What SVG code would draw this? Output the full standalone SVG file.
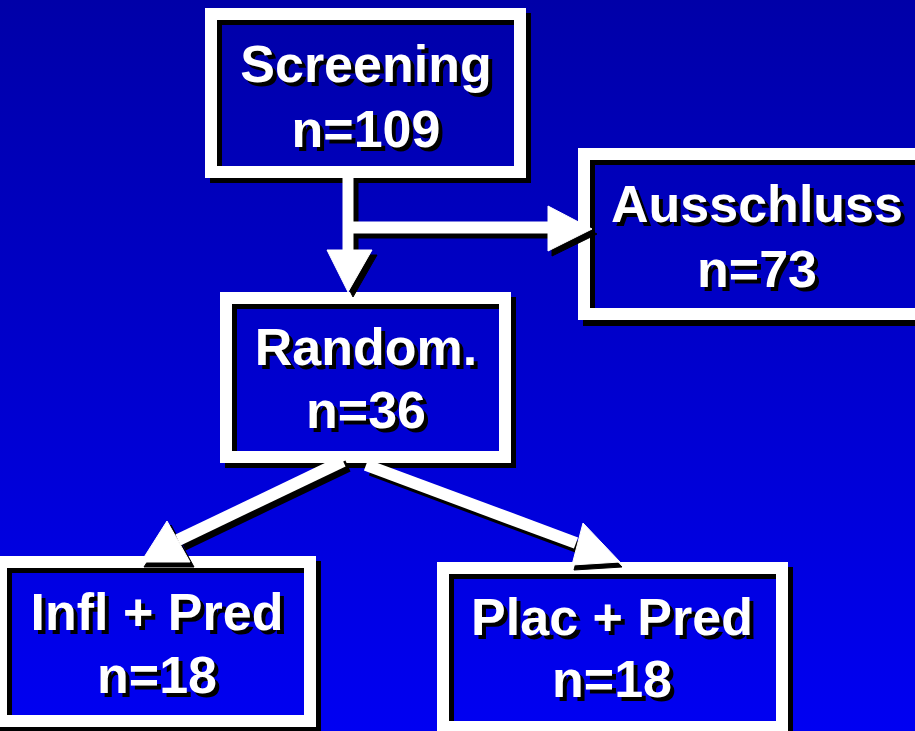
<svg xmlns="http://www.w3.org/2000/svg" width="915" height="731" viewBox="0 0 915 731">
<defs>
<linearGradient id="bg" x1="0" y1="0" x2="0" y2="1">
<stop offset="0" stop-color="#0000A8"/>
<stop offset="1" stop-color="#0000F2"/>
</linearGradient>
</defs>
<style>
.sh{fill:none;stroke:#000;stroke-width:12}
.fr{fill:none;stroke:#fff;stroke-width:12}
.t{font-family:"Liberation Sans",Arial,sans-serif;font-weight:bold;font-size:52px;text-anchor:middle;fill:#fff}
.ts{font-family:"Liberation Sans",Arial,sans-serif;font-weight:bold;font-size:52px;text-anchor:middle;fill:#000}
.cs{fill:#000;stroke:#000}
.cw{fill:#fff;stroke:#fff}
.ls{stroke:#000;stroke-width:12;fill:none}
.lw{stroke:#fff;stroke-width:12;fill:none}
</style>
<rect x="0" y="0" width="915" height="731" fill="url(#bg)"/>

<g id="node-screening">
<rect class="sh" x="216" y="19" width="309" height="158"/>
<rect class="fr" x="211" y="14" width="309" height="158"/>
<text class="ts" x="370" y="86">Screening</text>
<text class="t" x="366" y="82">Screening</text>
<text class="ts" x="370" y="151">n=109</text>
<text class="t" x="366" y="147">n=109</text>
</g>

<g id="node-ausschluss">
<rect class="sh" x="589" y="159" width="346" height="161"/>
<rect class="fr" x="584" y="154" width="346" height="160"/>
<text class="ts" x="761" y="226">Ausschluss</text>
<text class="t" x="757" y="222">Ausschluss</text>
<text class="ts" x="761" y="291">n=73</text>
<text class="t" x="757" y="287">n=73</text>
</g>

<g id="node-random">
<rect class="sh" x="231" y="303" width="279" height="159"/>
<rect class="fr" x="226" y="298" width="279" height="159"/>
<text class="ts" x="370" y="369">Random.</text>
<text class="t" x="366" y="365">Random.</text>
<text class="ts" x="370" y="432">n=36</text>
<text class="t" x="366" y="428">n=36</text>
</g>

<g id="node-infl">
<rect class="sh" x="6" y="567" width="309" height="159"/>
<rect class="fr" x="1" y="562" width="309" height="159"/>
<text class="ts" x="161" y="634">Infl + Pred</text>
<text class="t" x="157" y="630">Infl + Pred</text>
<text class="ts" x="161" y="697">n=18</text>
<text class="t" x="157" y="693">n=18</text>
</g>

<g id="node-plac">
<rect class="sh" x="448" y="573" width="339" height="159"/>
<rect class="fr" x="443" y="568" width="339" height="159"/>
<text class="ts" x="616" y="639">Plac + Pred</text>
<text class="t" x="612" y="635">Plac + Pred</text>
<text class="ts" x="616" y="701">n=18</text>
<text class="t" x="612" y="697">n=18</text>
</g>

<g id="connectors">
<rect class="cs" x="348" y="181" width="10" height="73"/>
<polygon class="cs" points="332,255 377,255 353,297"/>
<rect class="cs" x="353" y="227" width="199" height="11"/>
<polygon class="cs" points="552,211 552,256 597,234"/>
<line class="ls" x1="348" y1="466" x2="183" y2="545"/>
<polygon class="cs" points="171,525 144,567 194,567"/>
<line class="ls" x1="371" y1="470" x2="580" y2="548"/>
<polygon class="cs" points="585,528 574,570 622,567"/>
<rect class="cw" x="343" y="176" width="10" height="76"/>
<polygon class="cw" points="327,250 372,250 348,292"/>
<rect class="cw" x="348" y="222" width="201" height="11"/>
<polygon class="cw" points="548,206 548,251 592,229"/>
<line class="lw" x1="343" y1="461" x2="178" y2="540"/>
<polygon class="cw" points="167,521 141,562 190,562"/>
<line class="lw" x1="366" y1="465" x2="576" y2="543"/>
<polygon class="cw" points="583,523 572,565 620,562"/>
</g>
</svg>
